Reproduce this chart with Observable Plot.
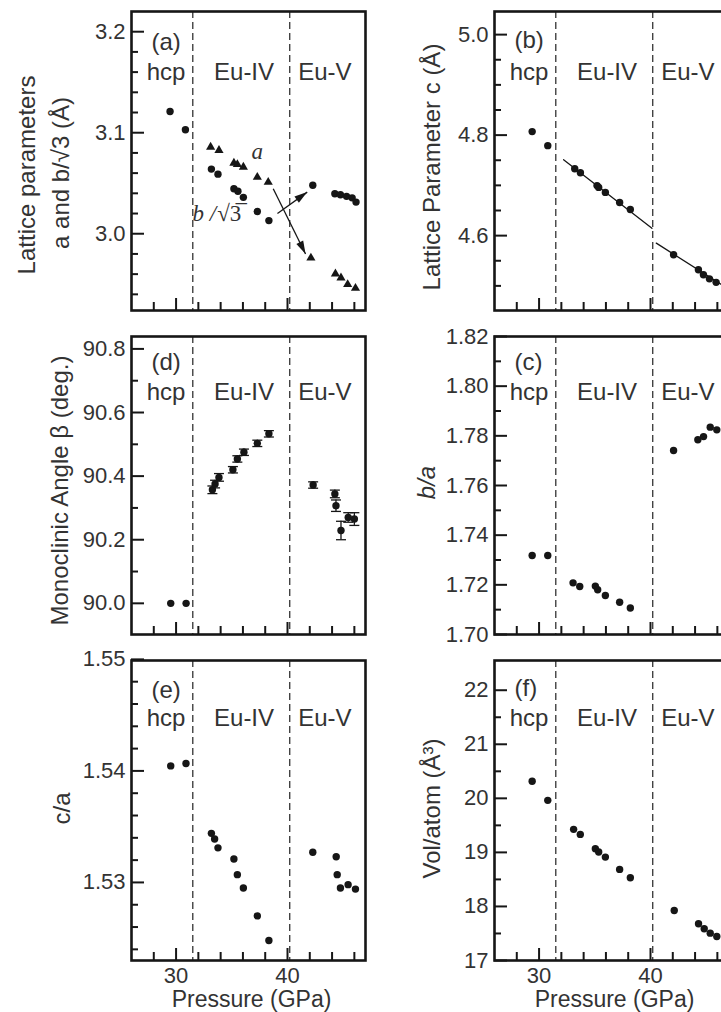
<!DOCTYPE html>
<html><head><meta charset="utf-8">
<script src="https://cdn.jsdelivr.net/npm/d3@7"></script>
<script src="https://cdn.jsdelivr.net/npm/@observablehq/plot@0.6"></script>
<style>
html,body{margin:0;padding:0;background:#fff;overflow:hidden;}
#fig{position:relative;width:721px;height:1012px;overflow:hidden;background:#fff;}
#fig svg{position:absolute;overflow:visible;}
</style></head><body><div id="fig"></div>
<script>
// ---------------- shared axis data ----------------
const pressureDomain = [26, 47];
const phaseBoundaries = [31.5, 40.2];
const phaseNames = ["hcp", "Eu-IV", "Eu-V"];
const phaseLabelPressure = [29.1, 36.1, 43.35];
const xMajorTicks = [30, 40];
const xMinorTicks = [28, 32, 34, 36, 38, 42, 44, 46];

// ---------------- (a) lattice parameters a and b/sqrt3 ----------------
const aCircleP   = [29.46, 30.84, 33.17, 33.76, 35.19, 35.55, 36.04, 37.29, 38.33, 42.27, 44.25, 44.75, 45.3, 45.8, 46.15];
const aCircleVal = [3.121, 3.103, 3.064, 3.059, 3.0446, 3.042, 3.036, 3.022, 3.013, 3.048, 3.0396, 3.0386, 3.037, 3.0355, 3.0313];
const aTriP   = [33.1, 33.85, 35.19, 35.5, 36.04, 37.29, 38.27, 42.1, 44.3, 44.8, 45.4, 46.1];
const aTriVal = [3.0858, 3.0825, 3.070, 3.0686, 3.066, 3.056, 3.051, 2.976, 2.9604, 2.9564, 2.9498, 2.9461];
const aArrowFrom = [[39.1, 3.020], [38.72, 3.0446]];
const aArrowTo   = [[41.77, 3.0412], [41.62, 2.980]];
const aSeriesLabelPos = [[37.29, 3.0808], [33.6, 3.0198]];
const aYMajor = [3.0, 3.1, 3.2];
const aYMinor = [2.94, 2.96, 2.98, 3.02, 3.04, 3.06, 3.08, 3.12, 3.14, 3.16, 3.18];

// ---------------- (b) lattice parameter c ----------------
const bP   = [29.38, 30.78, 33.2, 33.71, 35.2, 35.35, 35.95, 37.23, 38.19, 42.07, 44.3, 44.75, 45.29, 45.89];
const bVal = [4.807, 4.779, 4.733, 4.725, 4.6995, 4.696, 4.686, 4.666, 4.652, 4.562, 4.532, 4.522, 4.514, 4.507];
const bFitIVP = [32.2, 40.13], bFitIVVal = [4.751, 4.6145];
const bFitVP  = [40.52, 47.0], bFitVVal  = [4.585, 4.4936];
const bYMajor = [4.6, 4.8, 5.0];
const bYMinor = [4.5, 4.55, 4.65, 4.7, 4.75, 4.85, 4.9, 4.95];

// ---------------- (d) monoclinic angle beta ----------------
const dP    = [29.52, 30.9, 33.26, 33.5, 33.85, 35.1, 35.5, 36.09, 37.29, 38.33, 42.3, 44.25, 44.35, 44.8, 45.45, 46.0];
const dVal  = [90.0, 90.0, 90.357, 90.375, 90.396, 90.42, 90.454, 90.475, 90.503, 90.533, 90.372, 90.344, 90.307, 90.229, 90.27, 90.265];
const dErr  = [0, 0, 0.012, 0.012, 0.012, 0.01, 0.01, 0.01, 0.01, 0.01, 0.01, 0.012, 0.018, 0.029, 0.015, 0.02];
const dYMajor = [90.0, 90.2, 90.4, 90.6, 90.8];
const dYMinor = [90.1, 90.3, 90.5, 90.7];

// ---------------- (c) b/a ----------------
const cP   = [29.38, 30.78, 33.05, 33.65, 35.05, 35.26, 35.95, 37.23, 38.19, 42.07, 44.25, 44.76, 45.36, 45.95];
const cVal = [1.7318, 1.7318, 1.7208, 1.7193, 1.7195, 1.718, 1.7157, 1.713, 1.7107, 1.7741, 1.7784, 1.7797, 1.7835, 1.7824];
const cYMajor = [1.70, 1.72, 1.74, 1.76, 1.78, 1.80, 1.82];
const cYMinor = [1.71, 1.73, 1.75, 1.77, 1.79, 1.81];

// ---------------- (e) c/a ----------------
const eP   = [29.52, 30.89, 33.17, 33.46, 33.76, 35.19, 35.5, 36.04, 37.29, 38.33, 42.27, 44.37, 44.46, 44.75, 45.44, 46.1];
const eVal = [1.54045, 1.54066, 1.5344, 1.5339, 1.5331, 1.5321, 1.5307, 1.5295, 1.5270, 1.5248, 1.5327, 1.5323, 1.5307, 1.5295, 1.5298, 1.5294];
const eYMajor = [1.53, 1.54, 1.55];
const eYMinor = [1.524, 1.526, 1.528, 1.532, 1.534, 1.536, 1.538, 1.542, 1.544, 1.546, 1.548];

// ---------------- (f) volume per atom ----------------
const fP   = [29.38, 30.78, 33.1, 33.7, 35.05, 35.35, 35.95, 37.23, 38.19, 42.13, 44.31, 44.82, 45.36, 45.95];
const fVal = [20.315, 19.963, 19.426, 19.333, 19.068, 19.006, 18.913, 18.685, 18.531, 17.926, 17.68, 17.587, 17.506, 17.444];
const fYMajor = [17, 18, 19, 20, 21, 22];
const fYMinor = [17.5, 18.5, 19.5, 20.5, 21.5];

// ---------------- styling ----------------
const FONT = "'Liberation Sans', Arial, Helvetica, sans-serif";
const SERIF = "'Liberation Serif', 'DejaVu Serif', serif";
const INK = "#161616";
const TXT = "#333";
const MAJOR_LEN = 13, MINOR_LEN = 7, XMAJOR_LEN = 12, XMINOR_LEN = 8;
const fig = document.getElementById("fig");

const zip = (xs, ys) => xs.map((x, i) => ({P: x, v: ys[i]}));

function panel(cfg) {
  const {left, top, width, height, marginLeft, marginRight, marginTop, marginBottom,
         yDomain, yMajor, yMinor, yFmt, letter, letterDy, phaseDy, titles, showX, marks} = cfg;
  // pixel<->data helpers with the same domain/range as the plot, for inward tick lengths
  const xs = d3.scaleLinear(pressureDomain, [marginLeft, width - marginRight]);
  const ys = d3.scaleLinear(yDomain, [height - marginBottom, marginTop]);
  const x0 = pressureDomain[0];
  const y0 = yDomain[0];
  const xMajEnd = xs.invert(marginLeft + MAJOR_LEN);
  const xMinEnd = xs.invert(marginLeft + MINOR_LEN);
  const yMajEnd = ys.invert(height - marginBottom - XMAJOR_LEN);
  const yMinEnd = ys.invert(height - marginBottom - XMINOR_LEN);
  const tickStyle = {stroke: INK, strokeWidth: 2};
  const all = [
    Plot.ruleX(phaseBoundaries, {x: d => d, stroke: "#333", strokeWidth: 1.3, strokeDasharray: "7,4"}),
    Plot.ruleY(yMajor, {y: d => d, x1: x0, x2: xMajEnd, ...tickStyle}),
    Plot.ruleY(yMinor, {y: d => d, x1: x0, x2: xMinEnd, ...tickStyle}),
    Plot.ruleX(xMajorTicks, {x: d => d, y1: y0, y2: yMajEnd, ...tickStyle}),
    Plot.ruleX(xMinorTicks, {x: d => d, y1: y0, y2: yMinEnd, ...tickStyle}),
    Plot.text(yMajor, {y: d => d, text: d => yFmt(d), frameAnchor: "left", textAnchor: "end", lineAnchor: "middle",
      dx: -6, fontSize: 22, fill: TXT}),
    Plot.text([letter], {frameAnchor: "top-left", text: d => d, textAnchor: "start", lineAnchor: "middle",
      dx: 20, dy: letterDy, fontSize: 24, fill: TXT}),
    Plot.text(phaseNames, {x: (d, i) => phaseLabelPressure[i], frameAnchor: "top", text: d => d,
      lineAnchor: "middle", dy: phaseDy, fontSize: 24, fill: TXT}),
    ...titles.map(t => Plot.text([t.text], {frameAnchor: "left", text: d => d, rotate: -90,
      textAnchor: "middle", lineAnchor: "middle", dx: t.dx, dy: t.dy, fontSize: 24, fill: TXT,
      fontStyle: t.italic ? "italic" : "normal"})),
    ...marks(xs, ys),
    Plot.frame({stroke: INK, strokeWidth: 2.6})
  ];
  if (showX) {
    all.push(Plot.text(xMajorTicks, {x: d => d, text: d => String(d), frameAnchor: "bottom",
      lineAnchor: "middle", dy: 15.5, fontSize: 22, fill: TXT}));
    all.push(Plot.text(["Pressure (GPa)"], {frameAnchor: "bottom", text: d => d, lineAnchor: "middle",
      dy: 39.5, dx: 3, fontSize: 23, fill: TXT}));
  }
  const svg = Plot.plot({
    width, height, marginLeft, marginRight, marginTop, marginBottom,
    x: {domain: pressureDomain, axis: null},
    y: {domain: yDomain, axis: null},
    style: {fontFamily: FONT, background: "transparent", overflow: "visible"},
    marks: all
  });
  svg.style.left = left + "px";
  svg.style.top = top + "px";
  fig.appendChild(svg);
  return svg;
}

const LEFT = {left: 0, width: 370, marginLeft: 131, marginRight: 5};
const RIGHT = {left: 360, width: 373, marginLeft: 134, marginRight: 5};
const ROW1 = {top: 0, height: 325, marginTop: 11, marginBottom: 15};
const ROW2 = {top: 325, height: 325, marginTop: 11, marginBottom: 16};
const ROW3 = {top: 650, height: 362, marginTop: 10, marginBottom: 52};

const dotStyle = {r: 3.7, fill: INK, stroke: "none"};
const f1 = d3.format(".1f"), f2 = d3.format(".2f"), f0 = d3.format("d");

const arrowHead = {draw(ctx) { ctx.moveTo(0, 0); ctx.lineTo(-3.8, 13); ctx.lineTo(3.8, 13); ctx.closePath(); }};
const capSymbol = {draw(ctx) { ctx.moveTo(-5, 0); ctx.lineTo(5, 0); }};
const aArrows = aArrowFrom.map((f, i) => ({x1: f[0], y1: f[1], x2: aArrowTo[i][0], y2: aArrowTo[i][1]}));

// (a)
panel({...LEFT, ...ROW1, yDomain: [2.924, 3.22], yMajor: aYMajor, yMinor: aYMinor, yFmt: f1,
  letter: "(a)", letterDy: 31, phaseDy: 61,
  titles: [{text: "Lattice parameters", dx: -104, dy: 14}, {text: "a and b/√3 (Å)", dx: -70, dy: 12}],
  marks: (xs, ys) => {
    const angleOf = d => {
      const dx = xs(d.x2) - xs(d.x1), dy = ys(d.y2) - ys(d.y1);
      return Math.atan2(dx, -dy) * 180 / Math.PI;
    };
    return [
      Plot.dot(zip(aTriP, aTriVal), {x: "P", y: "v", symbol: "triangle", r: 3.4, fill: INK, stroke: "none"}),
      Plot.dot(zip(aCircleP, aCircleVal), {x: "P", y: "v", ...dotStyle}),
      Plot.link(aArrows, {x1: "x1", y1: "y1", x2: "x2", y2: "y2", stroke: INK, strokeWidth: 1.3}),
      Plot.dot(aArrows, {x: "x2", y: "y2", symbol: arrowHead, rotate: angleOf, fill: INK, stroke: "none"}),
      Plot.text(["a"], {x: aSeriesLabelPos[0][0], y: aSeriesLabelPos[0][1], text: d => d, fontFamily: SERIF,
        fontStyle: "italic", fontSize: 23, fill: TXT, lineAnchor: "middle"}),
      Plot.text(["b /"], {x: aSeriesLabelPos[1][0], y: aSeriesLabelPos[1][1], text: d => d, fontFamily: SERIF,
        fontStyle: "italic", fontSize: 23, fill: TXT, textAnchor: "end", lineAnchor: "middle"}),
      Plot.text(["√3\u0305"], {x: aSeriesLabelPos[1][0], y: aSeriesLabelPos[1][1], text: d => d, fontFamily: SERIF,
        fontSize: 23, fill: TXT, textAnchor: "start", lineAnchor: "middle", dx: 1})
    ];
  }});

// (b)
panel({...RIGHT, ...ROW1, yDomain: [4.451, 5.046], yMajor: bYMajor, yMinor: bYMinor, yFmt: f1,
  letter: "(b)", letterDy: 29, phaseDy: 61,
  titles: [{text: "Lattice Parameter c (Å)", dx: -62, dy: 6}],
  marks: () => [
    Plot.line(zip(bFitIVP, bFitIVVal), {x: "P", y: "v", stroke: INK, strokeWidth: 1.3}),
    Plot.line(zip(bFitVP, bFitVVal), {x: "P", y: "v", stroke: INK, strokeWidth: 1.3}),
    Plot.dot(zip(bP, bVal), {x: "P", y: "v", ...dotStyle})
  ]});

// (d)
const dData = dP.map((p, i) => ({P: p, v: dVal[i], e: dErr[i]}));
const dErrData = dData.filter(d => d.e > 0);
panel({...LEFT, ...ROW2, yDomain: [89.902, 90.839], yMajor: dYMajor, yMinor: dYMinor, yFmt: f1,
  letter: "(d)", letterDy: 26, phaseDy: 56,
  titles: [{text: "Monoclinic Angle β (deg.)", dx: -71, dy: 5}],
  marks: () => [
    Plot.ruleX(dErrData, {x: "P", y1: d => d.v - d.e, y2: d => d.v + d.e, stroke: INK, strokeWidth: 1.3}),
    Plot.dot(dErrData, {x: "P", y: d => d.v - d.e, symbol: capSymbol, fill: "none", stroke: INK, strokeWidth: 1.3}),
    Plot.dot(dErrData, {x: "P", y: d => d.v + d.e, symbol: capSymbol, fill: "none", stroke: INK, strokeWidth: 1.3}),
    Plot.dot(dData, {x: "P", y: "v", ...dotStyle})
  ]});

// (c)
panel({...RIGHT, ...ROW2, yDomain: [1.70, 1.82], yMajor: cYMajor, yMinor: cYMinor, yFmt: f2,
  letter: "(c)", letterDy: 26, phaseDy: 56,
  titles: [{text: "b/a", dx: -67, dy: -3, italic: true}],
  marks: () => [Plot.dot(zip(cP, cVal), {x: "P", y: "v", ...dotStyle})]});

// (e)
panel({...LEFT, ...ROW3, yDomain: [1.523, 1.5499], yMajor: eYMajor, yMinor: eYMinor, yFmt: f2,
  letter: "(e)", letterDy: 30, phaseDy: 58, showX: true,
  titles: [{text: "c/a", dx: -69, dy: -2}],
  marks: () => [Plot.dot(zip(eP, eVal), {x: "P", y: "v", ...dotStyle})]});

// (f)
panel({...RIGHT, ...ROW3, yDomain: [17, 22.55], yMajor: fYMajor, yMinor: fYMinor, yFmt: f0,
  letter: "(f)", letterDy: 28, phaseDy: 58, showX: true,
  titles: [{text: "Vol/atom (Å³)", dx: -62, dy: -2}],
  marks: () => [Plot.dot(zip(fP, fVal), {x: "P", y: "v", ...dotStyle})]});
</script>
</body></html>
